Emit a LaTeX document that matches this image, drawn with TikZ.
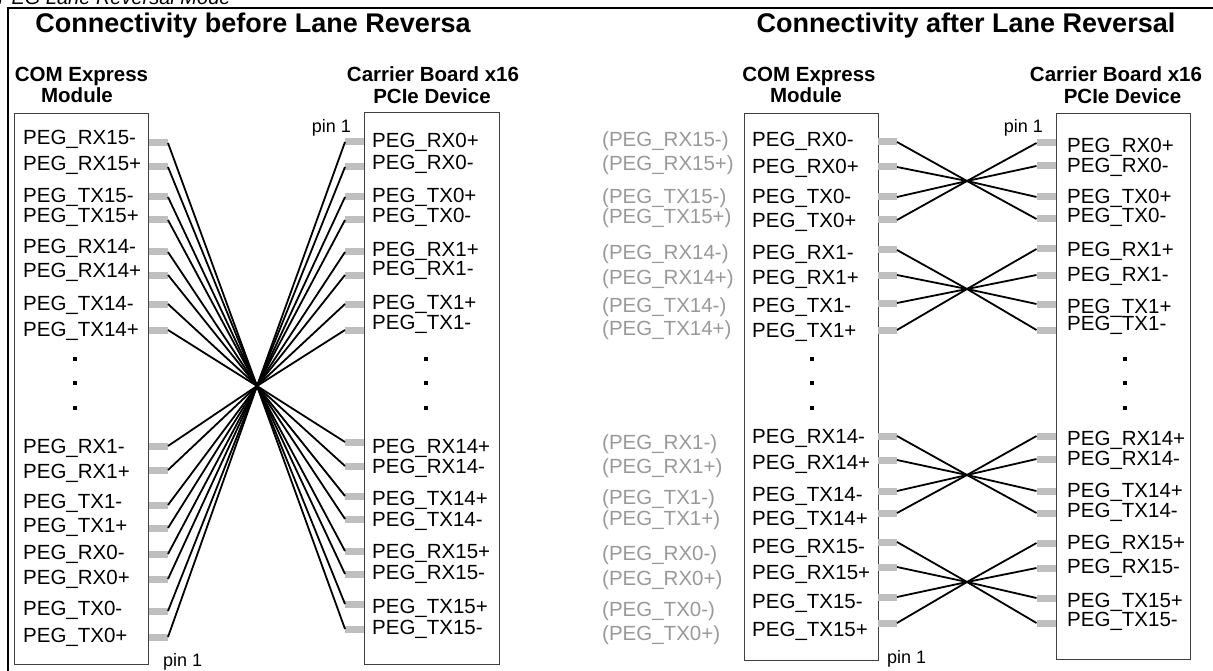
\documentclass[tikz,border=0pt]{standalone}
\usepackage{fontspec}
\setmainfont{Liberation Sans}
\usepackage{tikz}

\tikzset{
  pinpad/.style={fill=black!25, minimum width=19pt, minimum height=7pt, inner sep=0pt, outer sep=0pt},
  wire/.style={line width=1.8pt, line join=round},
  sig/.style={anchor=base west, inner sep=0pt, font=\fontsize{20.5}{24}\selectfont},
  ghost/.style={sig, text=black!40},
  head/.style={anchor=base, inner sep=0pt, font=\fontsize{20.5}{24}\selectfont\bfseries},
  ttl/.style={anchor=base, inner sep=0pt, font=\fontsize{27}{30}\selectfont\bfseries},
  pinno/.style={inner sep=0pt, font=\fontsize{18}{20}\selectfont},
  dotmark/.style={fill=black, minimum size=4pt, inner sep=0pt},
  chip/.style={draw=black!75, line width=1pt, inner sep=0pt}
}

\begin{document}
\begin{tikzpicture}[x=1pt, y=-1pt]
\useasboundingbox (0,0) rectangle (1213,671);
\node[anchor=base west, inner sep=0pt, font=\fontsize{20}{24}\selectfont\itshape] (cap) at (-2,5) {PEG Lane Reversal Mode};
\draw[line width=1.5pt] (8,690) -- (8,8) -- (1230,8);

%before
\begin{scope}
  \node[ttl] (at) at (253,33) {Connectivity before Lane Reversa};
  \node[head] (amh1) at (81.5,82) {COM Express};
  \node[head] (amh2) at (77,103) {Module};
  \node[head] (adh1) at (433,82) {Carrier Board x16};
  \node[head] (adh2) at (432,104) {PCIe Device};
  \node[chip, minimum width=134pt, minimum height=550pt] (amod) at (81,389) {};
  \node[chip, minimum width=135pt, minimum height=551pt] (adev) at (431.5,388.5) {};

  \foreach \y/\s [count=\i] in {145/RX15-, 171/RX15+, 203/TX15-, 223/TX15+,
      254/RX14-, 277/RX14+, 310/TX14-, 336/TX14+, 453/RX1-, 478/RX1+,
      508/TX1-, 532/TX1+, 559/RX0-, 584/RX0+, 615/TX0-, 642/TX0+} {
    \node[sig] (aml\i) at (23,\y) {PEG\_\s};
  }
  \foreach \y/\s [count=\i] in {148/RX0+, 170/RX0-, 203/TX0+, 223/TX0-,
      256/RX1+, 276/RX1-, 309/TX1+, 329/TX1-, 453/RX14+, 473/RX14-,
      505/TX14+, 526/TX14-, 558/RX15+, 579/RX15-, 613/TX15+, 634/TX15-} {
    \node[sig] (adl\i) at (372,\y) {PEG\_\s};
  }
  \foreach \y [count=\i] in {143,167,197,220,252,275,304,330,446,470,505,528,554,579,611,637}
    \node[pinpad] (apm\i) at (158.5,\y) {};
  \foreach \y [count=\i] in {142,167,197,220,252,275,304,330,442,466,496,519,551,574,604,629}
    \node[pinpad] (apd\i) at (354.5,\y) {};
  \foreach \y [count=\i] in {359,383,408} {
    \node[dotmark] (amd\i) at (75,\y) {};
    \node[dotmark] (add\i) at (426,\y) {};
  }

  \coordinate (ax) at (257,386);
  \foreach \i [evaluate=\i as \j using int(17-\i)] in {1,...,16}
    \draw[wire] (apm\i.east) -- (ax) -- (apd\j.west);

  \node[pinno, anchor=base east] (ap1) at (351,133) {pin 1};
  \node[pinno, anchor=base west] (ap2) at (163,666) {pin 1};
\end{scope}

%after
\begin{scope}
  \node[ttl] (bt) at (966,33) {Connectivity after Lane Reversal};
  \node[head] (bmh1) at (809,82) {COM Express};
  \node[head] (bmh2) at (806,103) {Module};
  \node[head] (bdh1) at (1116,82) {Carrier Board x16};
  \node[head] (bdh2) at (1122.5,104) {PCIe Device};
  \node[chip, minimum width=134pt, minimum height=546pt] (bmod) at (811,387) {};
  \node[chip, minimum width=134pt, minimum height=545pt] (bdev) at (1123,386.5) {};

  \foreach \y/\s [count=\i] in {147/RX15-, 171/RX15+, 204/TX15-, 224/TX15+,
      259/RX14-, 284/RX14+, 312/TX14-, 335/TX14+, 449/RX1-, 473/RX1+,
      504/TX1-, 525/TX1+, 560/RX0-, 585/RX0+, 616/TX0-, 640/TX0+} {
    \node[ghost] (bgl\i) at (602,\y) {(PEG\_\s)};
  }
  \foreach \y/\s [count=\i] in {147/RX0-, 174/RX0+, 204/TX0-, 228/TX0+,
      259/RX1-, 284/RX1+, 312/TX1-, 337/TX1+, 443/RX14-, 469/RX14+,
      501/TX14-, 525/TX14+, 553/RX15-, 579/RX15+, 608/TX15-, 636/TX15+} {
    \node[sig] (bml\i) at (752,\y) {PEG\_\s};
  }
  \foreach \y/\s [count=\i] in {153/RX0+, 173/RX0-, 204/TX0+, 223/TX0-,
      256/RX1+, 281/RX1-, 313/TX1+, 330/TX1-, 445/RX14+, 465/RX14-,
      497/TX14+, 517/TX14-, 549/RX15+, 573/RX15-, 607/TX15+, 626/TX15-} {
    \node[sig] (bdl\i) at (1067,\y) {PEG\_\s};
  }
  \foreach \y [count=\i] in {142,167,197,220,250,275,303,330,436,460,491,513,542,567,597,623}
    \node[pinpad] (bpm\i) at (887.5,\y) {};
  \foreach \y [count=\i] in {143,166,197,219,249,275,304,330,436,459,491,513,543,568,598,623}
    \node[pinpad] (bpd\i) at (1046,\y) {};
  \foreach \y [count=\i] in {359,383,408} {
    \node[dotmark] (bmd\i) at (812,\y) {};
    \node[dotmark] (bdd\i) at (1125,\y) {};
  }

  \foreach \g/\yc in {0/181, 1/289, 2/475, 3/582} {
    \coordinate (bx\g) at (967,\yc);
    \foreach \k in {1,...,4} {
      \pgfmathtruncatemacro\pinL{4*\g+\k}
      \pgfmathtruncatemacro\pinR{4*\g+5-\k}
      \draw[wire] (bpm\pinL.east) -- (bx\g) -- (bpd\pinR.west);
    }
  }

  \node[pinno, anchor=base east] (bp1) at (1043,133) {pin 1};
  \node[pinno, anchor=base west] (bp2) at (887,663) {pin 1};
\end{scope}
\end{tikzpicture}
\end{document}
